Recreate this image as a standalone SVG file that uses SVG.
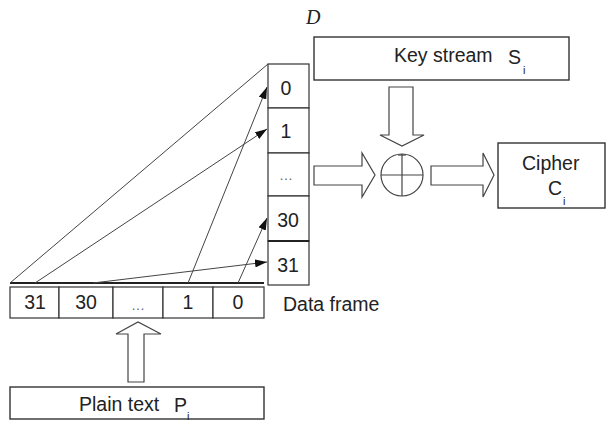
<svg xmlns="http://www.w3.org/2000/svg" width="607" height="423" viewBox="0 0 607 423">
  <style>
    .box { fill: #fff; stroke: #333; stroke-width: 1.4; }
    .cell { fill: #fff; stroke: #333; stroke-width: 1.2; }
    .blk { fill: #fff; stroke: #444; stroke-width: 1.2; stroke-linejoin: miter; }
    .t { font-family: "Liberation Sans", Arial, sans-serif; font-size: 19.5px; fill: #222; }
    .n { font-family: "Liberation Sans", Arial, sans-serif; font-size: 19.5px; fill: #222; text-anchor: middle; }
    .dots { font-family: "Liberation Sans", Arial, sans-serif; font-size: 14px; fill: #666; text-anchor: middle; }
    .sub { font-family: "Liberation Sans", Arial, sans-serif; font-size: 11px; fill: #222; }
    .wire { fill: none; stroke: #444; stroke-width: 1; }
  </style>
  <defs>
    <marker id="ah" viewBox="0 0 12 8" refX="12" refY="4" markerWidth="12" markerHeight="8" markerUnits="userSpaceOnUse" orient="auto">
      <path d="M0,0 L12,4 L0,8 Z" fill="#111"/>
    </marker>
  </defs>

  <rect width="607" height="423" fill="#fff"/>

  <!-- label of the register column -->
  <text x="306" y="24" font-family="Liberation Serif, serif" font-style="italic" font-size="20" fill="#222">D</text>

  <!-- key stream source -->
  <g id="keystream">
    <rect class="box" x="314" y="37" width="255" height="43"/>
    <text class="t" x="394" y="62">Key stream</text>
    <text class="t" x="508" y="64">S</text>
    <text class="sub" x="523" y="74">i</text>
  </g>

  <!-- 32-cell data frame, vertical -->
  <g id="data-frame-column">
    <rect class="cell" x="268" y="64" width="41" height="44"/>
    <rect class="cell" x="268" y="108" width="41" height="45"/>
    <rect class="cell" x="268" y="153" width="41" height="43"/>
    <rect class="cell" x="268" y="196" width="41" height="45"/>
    <rect class="cell" x="268" y="241" width="41" height="44"/>
    <line x1="268" y1="241" x2="309" y2="241" stroke="#222" stroke-width="2"/>
    <text class="n" x="286" y="95">0</text>
    <text class="n" x="286" y="138">1</text>
    <text class="dots" x="286" y="180">…</text>
    <text class="n" x="288" y="227">30</text>
    <text class="n" x="288" y="272">31</text>
  </g>

  <!-- 32-cell data frame, horizontal -->
  <g id="data-frame-row">
    <rect class="cell" x="10" y="287" width="49" height="31"/>
    <rect class="cell" x="59" y="287" width="54" height="31"/>
    <rect class="cell" x="113" y="287" width="50" height="31"/>
    <rect class="cell" x="163" y="287" width="50" height="31"/>
    <rect class="cell" x="213" y="287" width="51" height="31"/>
    <text class="n" x="35" y="309">31</text>
    <text class="n" x="86" y="309">30</text>
    <text class="dots" x="138" y="310">…</text>
    <text class="n" x="188" y="309">1</text>
    <text class="n" x="238" y="309">0</text>
    <line x1="10" y1="283" x2="264" y2="283" stroke="#222" stroke-width="2"/>
  </g>

  <text class="t" id="data-frame-label" x="283" y="311">Data frame</text>

  <!-- plain text source -->
  <g id="plaintext">
    <rect class="box" x="10" y="387" width="254" height="32"/>
    <text class="t" x="79" y="411">Plain text</text>
    <text class="t" x="174" y="412">P</text>
    <text class="sub" x="187" y="420">i</text>
  </g>

  <!-- XOR combiner -->
  <g id="xor">
    <circle cx="402" cy="175" r="21" fill="#fff" stroke="#444" stroke-width="1.2"/>
    <line x1="402" y1="154" x2="402" y2="196" stroke="#444" stroke-width="1.2"/>
    <line x1="381" y1="175" x2="423" y2="175" stroke="#444" stroke-width="1.2"/>
    <line x1="398" y1="155" x2="406" y2="155" stroke="#444" stroke-width="1.2"/>
  </g>

  <!-- cipher output -->
  <g id="cipher">
    <rect class="box" x="498" y="143" width="107" height="65"/>
    <text class="t" x="522" y="170">Cipher</text>
    <text class="t" x="548" y="195">C</text>
    <text class="sub" x="563" y="205">i</text>
  </g>

  <!-- connectors -->
  <g id="connectors">
    <!-- bit permutation wires -->
    <line class="wire" x1="10" y1="283" x2="268" y2="64"/>
    <line class="wire" x1="35" y1="283" x2="267" y2="129" marker-end="url(#ah)"/>
    <line class="wire" x1="188" y1="283" x2="267" y2="87" marker-end="url(#ah)"/>
    <line class="wire" x1="93" y1="283" x2="267" y2="262" marker-end="url(#ah)"/>
    <line class="wire" x1="238" y1="283" x2="267" y2="218" marker-end="url(#ah)"/>

    <!-- block arrows -->
    <path class="blk" d="M389,87 H413 V135 H424 L402,146 L380,135 H389 Z"/>
    <path class="blk" d="M314,166 H362 V153 L375,175 L362,197 V185 H314 Z"/>
    <path class="blk" d="M431,166 H483 V153 L494,175 L483,197 V185 H431 Z"/>
    <path class="blk" d="M128,382 V334 H116 L138,322 L161,334 H144 V382 Z"/>
  </g>
</svg>
